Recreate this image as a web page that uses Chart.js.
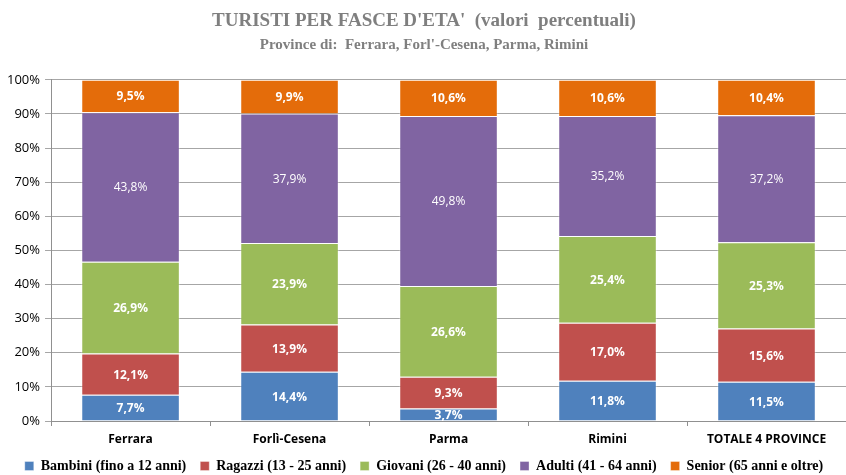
<!DOCTYPE html>
<html>
<head>
<meta charset="utf-8">
<script src="https://cdn.jsdelivr.net/npm/chart.js@4"></script>
<style>
  html, body { margin: 0; padding: 0; background: #fff; }
  #wrap { width: 846px; height: 475px; }
</style>
</head>
<body>
<div id="wrap"><canvas id="myChart" width="846" height="475"></canvas></div>
<script>
// province
const categories = ['Ferrara', 'Forlì-Cesena', 'Parma', 'Rimini', 'TOTALE 4 PROVINCE'];

// quote percentuali per fascia d'età
const bambini = [7.7, 14.4, 3.7, 11.8, 11.5];
const ragazzi = [12.1, 13.9, 9.3, 17.0, 15.6];
const giovani = [26.9, 23.9, 26.6, 25.4, 25.3];
const adulti = [43.8, 37.9, 49.8, 35.2, 37.2];
const senior = [9.5, 9.9, 10.6, 10.6, 10.4];

const seriesNames = [
  'Bambini (fino a 12 anni)',
  'Ragazzi (13 - 25 anni)',
  'Giovani (26 - 40 anni)',
  'Adulti (41 - 64 anni)',
  'Senior (65 anni e oltre)'
];
const colors = ['#4F81BD', '#C0504D', '#9BBB59', '#8064A2', '#E46C0A'];

const yTicks = [0, 10, 20, 30, 40, 50, 60, 70, 80, 90, 100];

// etichette dentro i segmenti
const labelPlugin = {
  id: 'segmentLabels',
  afterDatasetsDraw(chart) {
    const ctx = chart.ctx;
    ctx.save();
    ctx.textAlign = 'center';
    ctx.textBaseline = 'middle';
    ctx.fillStyle = '#ffffff';
    chart.data.datasets.forEach((ds, i) => {
      const meta = chart.getDatasetMeta(i);
      ctx.font = (i === 3 ? '' : 'bold ') + '12px "Open Sans", sans-serif';
      meta.data.forEach((bar, j) => {
        const y = (bar.y + bar.base) / 2;
        ctx.fillText(ds.data[j].toFixed(1).replace('.', ',') + '%', bar.x, y + 1);
      });
    });
    ctx.restore();
  }
};

const datasets = [bambini, ragazzi, giovani, adulti, senior].map((vals, i) => ({
  label: seriesNames[i],
  data: vals,
  backgroundColor: colors[i],
  borderColor: 'rgba(255,255,255,0.35)',
  borderWidth: 1,
  barPercentage: 0.62,
  categoryPercentage: 1
}));

new Chart(document.getElementById('myChart'), {
  type: 'bar',
  data: { labels: categories, datasets: datasets },
  plugins: [labelPlugin],
  options: {
    responsive: false,
    animation: false,
    layout: { padding: { left: 2, right: 0, top: 0, bottom: -8 } },
    scales: {
      x: {
        stacked: true,
        grid: { display: true, drawOnChartArea: false, tickLength: 5, color: '#909090' },
        border: { color: '#909090' },
        ticks: { color: '#000', font: { family: '"Open Sans", sans-serif', size: 12, weight: 'bold' }, padding: 6 },
        afterFit: axis => { axis.height = 24; }
      },
      y: {
        stacked: true,
        min: 0,
        max: 100,
        afterBuildTicks: axis => { axis.ticks = yTicks.map(v => ({ value: v })); },
        grid: { color: '#a6a6a6', tickLength: 6 },
        border: { color: '#909090' },
        ticks: {
          color: '#000',
          font: { family: '"Open Sans", sans-serif', size: 13 },
          padding: 5,
          callback: v => v + '%'
        }
      }
    },
    plugins: {
      title: {
        display: true,
        text: "TURISTI PER FASCE D'ETA'  (valori  percentuali)",
        color: '#7f7f7f',
        font: { family: '"Liberation Serif", serif', size: 19, weight: 'bold' },
        padding: { top: 10, bottom: 3 }
      },
      subtitle: {
        display: true,
        text: "Province di:  Ferrara, Forl'-Cesena, Parma, Rimini",
        color: '#7f7f7f',
        font: { family: '"Liberation Serif", serif', size: 15, weight: 'bold' },
        padding: { bottom: 26 }
      },
      legend: {
        position: 'bottom',
        labels: {
          color: '#000',
          boxWidth: 9,
          boxHeight: 9,
          padding: 14,
          font: { family: '"Liberation Serif", serif', size: 14, weight: 'bold' }
        }
      },
      tooltip: { enabled: false }
    }
  }
});
</script>
</body>
</html>
